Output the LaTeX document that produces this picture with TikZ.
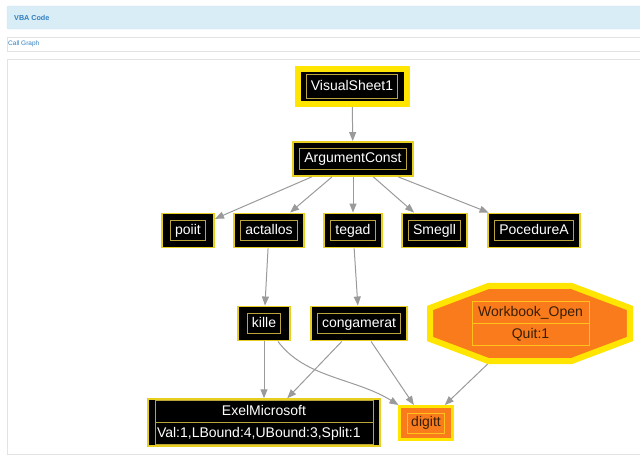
\documentclass[tikz,border=0pt]{standalone}
\usepackage{fontspec}
\setmainfont{Liberation Sans}
\usetikzlibrary{arrows.meta,shapes.multipart,shapes.geometric}
\definecolor{fnyellow}{HTML}{FFE500}
\definecolor{fnrim}{HTML}{E6CF1E}
\definecolor{fnframe}{HTML}{BBA43A}
\definecolor{fnorange}{HTML}{F97B1B}
\definecolor{fnorframe}{HTML}{FFC21A}
\definecolor{fntext}{HTML}{3A1E05}
\definecolor{edgegray}{HTML}{9A9A9A}
\definecolor{bandblue}{HTML}{D9EDF7}
\definecolor{bandline}{HTML}{C6E3F1}
\definecolor{headblue}{HTML}{2F7EC0}
\definecolor{panelgray}{HTML}{E3E3E3}
\newcommand\recstrut{\rule[-3pt]{0pt}{13.5pt}}
\begin{document}
\begin{tikzpicture}[x=1pt,y=-1pt,
    inset x/.initial=6.5pt, inset y/.initial=7pt,
    fnbox/.style={rectangle,fill=black,draw=fnrim,line width=1.5pt,text=white,
      font=\fontsize{14}{16}\selectfont,text height=10.5pt,text depth=3pt,
      inner xsep=11.25pt,minimum width=52.4pt,minimum height=34.4pt},
    innerframe/.style={path picture={\draw[#1,line width=1pt]
      ([xshift=\pgfkeysvalueof{/tikz/inset x},yshift=-\pgfkeysvalueof{/tikz/inset y}]path picture bounding box.north west) rectangle
      ([xshift=-\pgfkeysvalueof{/tikz/inset x},yshift=\pgfkeysvalueof{/tikz/inset y}]path picture bounding box.south east);}},
    fn/.style={fnbox,innerframe=fnframe},
    record/.style={rectangle split,rectangle split parts=2,line width=1pt,
      font=\fontsize{14}{16}\selectfont,inner xsep=2pt,inner ysep=3.75pt},
    callarrow/.style={draw=edgegray,line width=1pt,-{Triangle[length=9pt,width=7pt]}}]
  \useasboundingbox (0,0) rectangle (640,464);
  % page header
  \filldraw[fill=bandblue,draw=bandline,rounded corners=2pt] (7,6) rectangle (650,29);
  \node[anchor=west,inner sep=0pt,text=headblue,font=\bfseries\fontsize{7.2}{9}\selectfont] (vbahead) at (14,17.5) {VBA Code};
  \draw[panelgray] (7,37) rectangle (650,51);
  \node[anchor=west,inner sep=0pt,text=headblue,font=\fontsize{6.5}{8}\selectfont] (callhead) at (8,44) {Call Graph};
  \draw[panelgray] (7,59) rectangle (650,454);
  % procedures
  \node[fn,draw=fnyellow,line width=6pt,minimum width=109pt,minimum height=35pt,inset x=9pt,inset y=5.5pt] (visual) at (352,86.5) {VisualSheet1};
  \node[fn] (argconst) at (353,159) {ArgumentConst};
  \node[fn,inset x=9pt] (poiit) at (188,230.5) {poiit};
  \node[fn] (actallos) at (269,230.5) {actallos};
  \node[fn] (tegad) at (353,230.5) {tegad};
  \node[fn] (smegll) at (434.5,230.5) {Smegll};
  \node[fn] (pocedure) at (534,230.5) {PocedureA};
  \node[fn,inset x=9.5pt] (kille) at (264,323.5) {kille};
  \node[fn] (congamerat) at (359,323.5) {congamerat};
  \node[fnbox,minimum width=232pt,minimum height=47pt] (exel) at (264,422.5) {};
  \node[record,draw=fnframe,text=white,minimum width=218pt,rectangle split part align={center,left}] (exeltable) at (exel)
    {\recstrut ExelMicrosoft\nodepart{two}\recstrut Val:1,LBound:4,UBound:3,Split:1};
  \node[fnbox,innerframe=fnorframe,draw=fnyellow,line width=3pt,fill=fnorange,text=fntext,minimum width=51pt,minimum height=33pt,inset x=7.5pt,inset y=6.5pt] (digitt) at (426,423) {digitt};
  % event handler
  \begin{scope}[shift={(530,323.5)},xscale=2.65]
    \node[regular polygon,regular polygon sides=8,transform shape,draw=fnyellow,line width=6pt,fill=fnorange,minimum size=81.5pt,inner sep=0pt] (wbopen) {};
  \end{scope}
  \node[record,draw=fnorframe,text=fntext,minimum width=117pt] (wbtable) at (530.5,323.5)
    {\recstrut Workbook\_Open\nodepart{two}\recstrut Quit:1};
  % calls
  \draw[callarrow] (visual) -- (argconst);
  \foreach \callee in {poiit,actallos,tegad,smegll,pocedure}
    \draw[callarrow] (argconst) -- (\callee);
  \draw[callarrow] (actallos) -- (kille);
  \draw[callarrow] (tegad) -- (congamerat);
  \draw[callarrow] (kille) -- (exel);
  \draw[callarrow] ([xshift=14pt]kille.south) .. controls (305,378) and (355,378) .. (digitt.north west);
  \draw[callarrow] (congamerat) -- (exel);
  \draw[callarrow] (congamerat) -- (digitt);
  \draw[callarrow] (wbopen) -- (digitt);
\end{tikzpicture}
\end{document}
